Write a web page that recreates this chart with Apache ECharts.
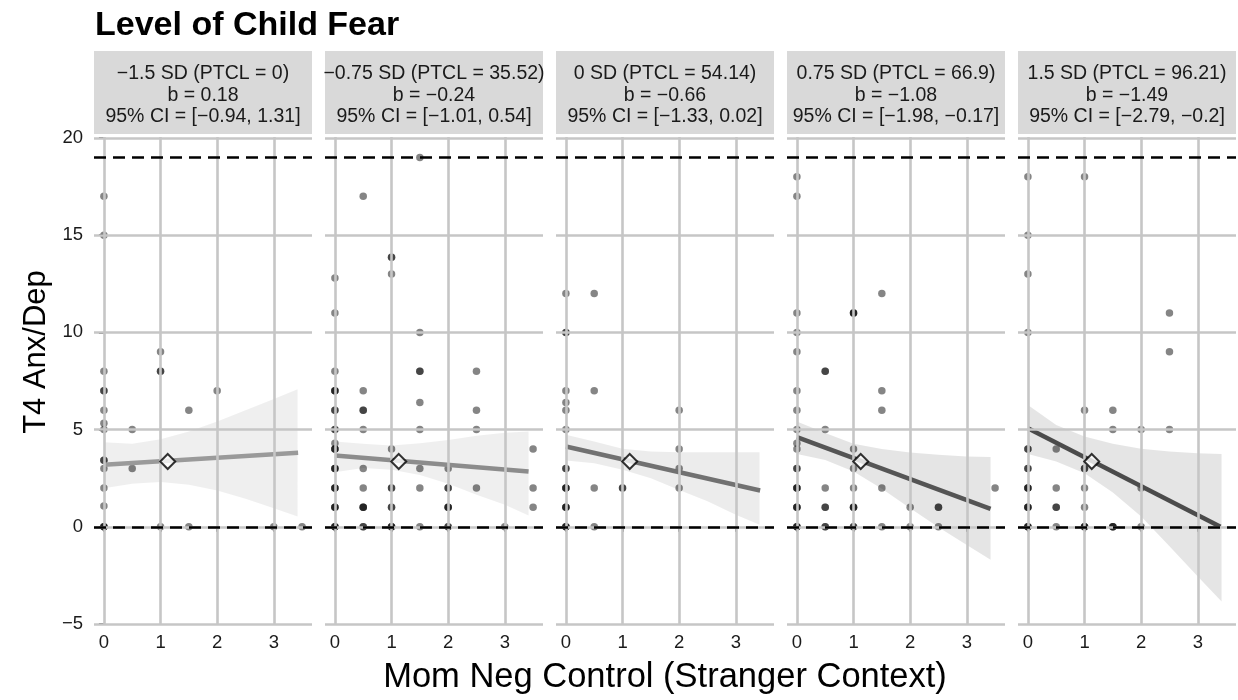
<!DOCTYPE html>
<html><head><meta charset="utf-8">
<script src="https://cdn.jsdelivr.net/npm/echarts@6/dist/echarts.min.js"></script>
<style>html,body{margin:0;padding:0;background:#fff}#c{width:1238px;height:700px}</style>
</head><body><div id="c"></div>
<script>
// ---------- data ----------
const title = 'Level of Child Fear';
const xLabel = 'Mom Neg Control (Stranger Context)';
const yLabel = 'T4 Anx/Dep';
const xTicks = [0, 1, 2, 3];
const yTicks = [-5, 0, 5, 10, 15, 20];
const refLines = [0, 19];
const stripLabels = [
  ['\u22121.5 SD (PTCL = 0)', 'b = 0.18', '95% CI = [\u22120.94, 1.31]'],
  ['\u22120.75 SD (PTCL = 35.52)', 'b = \u22120.24', '95% CI = [\u22121.01, 0.54]'],
  ['0 SD (PTCL = 54.14)', 'b = \u22120.66', '95% CI = [\u22121.33, 0.02]'],
  ['0.75 SD (PTCL = 66.9)', 'b = \u22121.08', '95% CI = [\u22121.98, \u22120.17]'],
  ['1.5 SD (PTCL = 96.21)', 'b = \u22121.49', '95% CI = [\u22122.79, \u22120.2]']
];
// points: [x, y, overlapping count]
const pts1 = [[0,17,1],[0,15,1],[1,9,1],[0,8,1],[1,8,2],[0,7,2],[2,7,1],[0,6,1],[1.5,6,1],[0,5.33,1],[0,5,1],[0.5,5,1],[0,3.43,2],[0,3,1],[0.5,3,1],[0,2,1],[0,1.07,1],[0,0,3],[1,0,1],[1.5,0,1],[3,0,1],[3.5,0,1]];
const pts2 = [[1.5,19,1],[0.5,17,1],[1,13.86,2],[1,13,1],[0,12.8,1],[0,11,1],[1.5,10,1],[0,8,1],[1.5,8,2],[2.5,8,1],[0,7,3],[0.5,7,1],[0,6,2],[0.5,6,2],[1.5,6.4,1],[2.5,6,1],[0,5,2],[0.5,5,1],[1.5,5,1],[2.5,5,1],[0,4.3,1],[0,4,3],[1,4,1],[3.5,4,1],[0,3,3],[0.5,3,1],[1.5,3,1],[2,3,1],[0,2,3],[0.5,2,1],[1,2,2],[1.5,2,1],[2,2,2],[2.5,2,1],[3.5,2,1],[0,1,3],[0.5,1,3],[1,1,2],[2,1,3],[3.5,1,1],[0,0,3],[0.5,0,2],[1,0,3],[1.5,0,1],[2,0,2],[3,0,1]];
const pts3 = [[0,12,1],[0.5,12,1],[0,10,2],[0,7,1],[0.5,7,1],[0,6.4,1],[0,6,1],[2,6,1],[0,5,1],[2,4,1],[0,3,2],[2,3,1],[0,2,3],[0.5,2,1],[1,2,2],[2,2,1],[0,1,3],[0,0,3],[0.5,0,1]];
const pts4 = [[0,18,1],[0,17,1],[1.5,12,1],[0,11,1],[1,11,3],[0,10,1],[0,9,1],[0.5,8,2],[0,7,1],[1.5,7,1],[0,6,1],[1.5,6,1],[0,5,1],[0.5,5,1],[0,4.3,1],[0,4,1],[1,4,1],[0,3,2],[1,3,1],[0,2,3],[0.5,2,1],[1,2,1],[1.5,2,1],[3.5,2,1],[0,1,3],[0.5,1,2],[1,1,3],[2,1,1],[2.5,1,2],[0,0,3],[0.5,0,2],[1,0,2],[1.5,0,1],[2,0,1],[2.5,0,1]];
const pts5 = [[0,18,1],[1,18,1],[0,15,1],[0,13,1],[2.5,11,1],[0,10,1],[2.5,9,1],[1,6,1],[1.5,6,1],[1.5,5,1],[2,5,1],[2.5,5,1],[0,4,2],[0.5,4,1],[0,3,2],[1,3,2],[0,2,3],[0.5,2,1],[1,2,1],[2,2,1],[0,1,3],[0.5,1,2],[1,1,1],[0,0,3],[0.5,0,1],[1,0,3],[1.5,0,3],[2,0,1]];
// fitted lines: start and end points
const fit1 = [[0,3.19],[3.43,3.81]];
const fit2 = [[0,3.67],[3.42,2.85]];
const fit3 = [[0,4.13],[3.43,1.87]];
const fit4 = [[0,4.61],[3.42,0.92]];
const fit5 = [[0,5.07],[3.4,0.0]];
// confidence band
const bandX = [0, 0.5, 1, 1.5, 2, 2.5, 3, 3.42];
const bandUp1 = [4.35,4.27,4.51,4.9,5.42,6.0,6.58,7.08];
const bandLo1 = [1.99,2.21,2.3,2.16,1.87,1.44,0.96,0.53];
const bandUp2 = [4.39,4.27,4.18,4.3,4.47,4.68,4.84,4.9];
const bandLo2 = [2.81,3.02,2.93,2.67,2.21,1.65,1.13,0.58];
const bandUp3 = [4.73,4.39,4.01,3.87,3.84,3.84,3.84,3.84];
const bandLo3 = [3.41,3.27,2.93,2.5,1.9,1.31,0.62,0.1];
const bandUp4 = [5.42,4.82,4.27,4.0,3.82,3.71,3.62,3.59];
const bandLo4 = [3.74,3.44,2.84,1.96,0.96,-0.02,-0.93,-1.7];
const bandUp5 = [6.27,5.24,4.64,4.27,4.01,3.87,3.79,3.74];
const bandLo5 = [3.75,3.36,2.76,1.76,0.53,-1.0,-2.56,-3.84];
// mean point marker
const meanPoint = [1.127, 3.36];

// ---------- layout / style ----------
const FONT = '"Liberation Sans", Arial, Helvetica, sans-serif';
const GL = 94, GW = 218, GSTEP = 231, GT = 137, GH = 488;
const lineColors = ['#9a9a9a', '#8c8c8c', '#717171', '#555555', '#4b4b4b'];
const bandColors = ['rgba(0,0,0,0.062)', 'rgba(0,0,0,0.062)', 'rgba(0,0,0,0.075)', 'rgba(0,0,0,0.10)', 'rgba(0,0,0,0.10)'];

const pts = [pts1, pts2, pts3, pts4, pts5];
const fits = [fit1, fit2, fit3, fit4, fit5];
const bandsUp = [bandUp1, bandUp2, bandUp3, bandUp4, bandUp5];
const bandsLo = [bandLo1, bandLo2, bandLo3, bandLo4, bandLo5];

const grids = [], xAxes = [], yAxes = [], series = [], graphics = [];
const minus = v => String(v).replace('-', '\u2212');

for (let i = 0; i < 5; i++) {
  const left = GL + GSTEP * i;
  grids.push({ left: left, top: GT, width: GW, height: GH });
  xAxes.push({
    type: 'value', gridIndex: i, min: -0.175, max: 3.675,
    splitLine: { show: false }, axisLine: { show: false },
    axisTick: { show: true, customValues: xTicks, length: 5, lineStyle: { color: '#333', width: 1.6 } },
    axisLabel: { customValues: xTicks, fontSize: 18.5, color: '#1a1a1a', margin: 8, fontFamily: FONT }
  });
  yAxes.push({
    type: 'value', gridIndex: i, min: -5.05, max: 20.05, show: i === 0,
    splitLine: { show: false }, axisLine: { show: false },
    axisTick: { show: true, customValues: yTicks, length: 5, lineStyle: { color: '#333', width: 1.6 } },
    axisLabel: { customValues: yTicks, fontSize: 18.5, color: '#1a1a1a', margin: 11, fontFamily: FONT, formatter: minus }
  });
  // gridlines
  series.push({
    type: 'line', xAxisIndex: i, yAxisIndex: i, data: [], z: 1, silent: true,
    markLine: {
      silent: true, symbol: ['none', 'none'], label: { show: false }, animation: false,
      lineStyle: { color: '#c6c6c6', width: 2.6, type: 'solid' },
      data: xTicks.map(v => ({ xAxis: v })).concat(yTicks.map(v => ({ yAxis: v })))
    }
  });
  // points (overlaps drawn as repeated marks)
  const pdata = [];
  pts[i].forEach(p => { for (let k = 0; k < p[2]; k++) pdata.push([p[0], p[1]]); });
  series.push({
    type: 'scatter', xAxisIndex: i, yAxisIndex: i, data: pdata, z: 2,
    symbolSize: 7.5, itemStyle: { color: 'rgba(0,0,0,0.6)' }
  });
  // confidence band
  const up = bandsUp[i], lo = bandsLo[i], col = bandColors[i];
  series.push({
    type: 'custom', xAxisIndex: i, yAxisIndex: i, data: [[bandX[0], up[0]]], z: 3, silent: true,
    renderItem: function (params, api) {
      const poly = [];
      for (let k = 0; k < bandX.length; k++) poly.push(api.coord([bandX[k], up[k]]));
      for (let k = bandX.length - 1; k >= 0; k--) poly.push(api.coord([bandX[k], lo[k]]));
      return { type: 'polygon', shape: { points: poly, smooth: 0 }, style: { fill: col } };
    }
  });
  // fitted line
  series.push({
    type: 'line', xAxisIndex: i, yAxisIndex: i, data: fits[i], z: 4, symbol: 'none',
    lineStyle: { color: lineColors[i], width: 4.5, cap: 'butt' }
  });
  // reference dashed lines
  series.push({
    type: 'line', xAxisIndex: i, yAxisIndex: i, data: [], z: 5, silent: true,
    markLine: {
      silent: true, symbol: ['none', 'none'], label: { show: false }, animation: false,
      lineStyle: { color: '#000', width: 2.6, type: [12, 7] },
      data: refLines.map(v => ({ yAxis: v }))
    }
  });
  // mean marker
  series.push({
    type: 'scatter', xAxisIndex: i, yAxisIndex: i, data: [meanPoint], z: 6,
    symbol: 'diamond', symbolSize: 15,
    itemStyle: { color: '#fff', borderColor: '#000', borderWidth: 2 }
  });
  // strip
  graphics.push({ type: 'rect', shape: { x: left, y: 51, width: GW, height: 83 }, style: { fill: '#d9d9d9' }, z: 10 });
  graphics.push({
    type: 'text', x: left + GW / 2, y: 95.5, z: 11,
    style: { text: stripLabels[i].join('\n'), fontSize: 19.5, fontFamily: FONT, fill: '#1a1a1a',
      align: 'center', verticalAlign: 'middle', lineHeight: 21.5 }
  });
}

graphics.push({ type: 'text', x: 95, y: 26, z: 11,
  style: { text: title, fontSize: 34, fontWeight: 'bold', fontFamily: FONT, fill: '#000', align: 'left', verticalAlign: 'middle' } });
graphics.push({ type: 'text', x: 665, y: 677, z: 11,
  style: { text: xLabel, fontSize: 34.5, fontFamily: FONT, fill: '#000', align: 'center', verticalAlign: 'middle' } });
graphics.push({ type: 'text', x: 36, y: 352, rotation: Math.PI / 2, z: 11,
  style: { text: yLabel, fontSize: 31, fontFamily: FONT, fill: '#000', align: 'center', verticalAlign: 'middle' } });

const chart = echarts.init(document.getElementById('c'), null, { renderer: 'canvas' });
chart.setOption({
  animation: false,
  backgroundColor: '#fff',
  grid: grids, xAxis: xAxes, yAxis: yAxes, series: series, graphic: graphics
});
</script></body></html>
